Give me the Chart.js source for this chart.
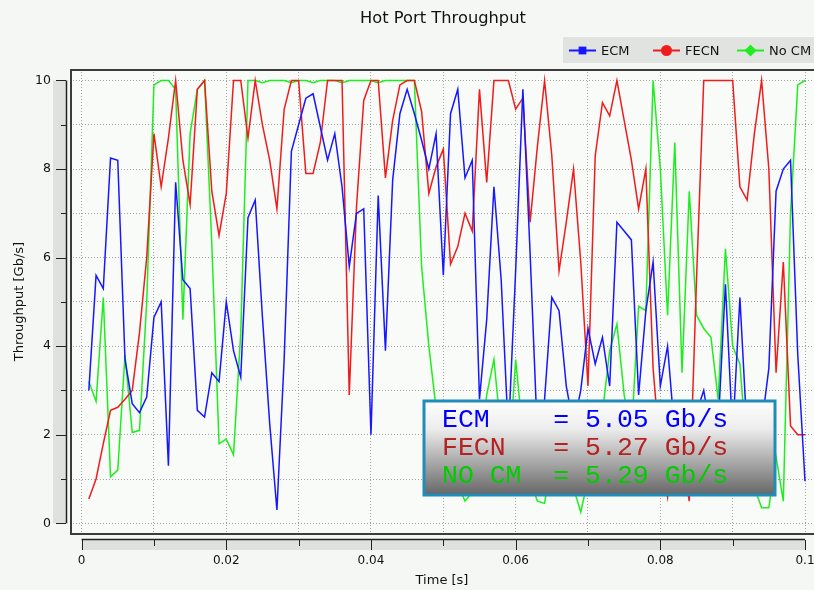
<!DOCTYPE html>
<html>
<head>
<meta charset="utf-8">
<title>Hot Port Throughput</title>
<script src="https://cdn.jsdelivr.net/npm/chart.js@4.4.1/dist/chart.umd.min.js"></script>
<style>
  html, body { margin: 0; padding: 0; background: #f4f7f4; }
  #wrap { width: 814px; height: 590px; }
</style>
</head>
<body>
<div id="wrap"><canvas id="throughputChart" width="814" height="590"></canvas></div>
<script>
// Sample grid: one throughput sample per millisecond, 1 ms .. 100 ms
const sampleStart = 0.001;
const sampleStep = 0.001;

// Throughput per sample [Gb/s]
const ecm = [
  3.0, 5.6, 5.3, 8.25, 8.2, 3.7, 2.7, 2.5, 2.85, 4.65,
  5.0, 1.3, 7.7, 5.5, 5.3, 2.55, 2.4, 3.4, 3.2, 5.0,
  3.9, 3.3, 6.9, 7.3, 4.65, 2.25, 0.3, 3.7, 8.4, 9.0,
  9.6, 9.7, 8.95, 8.2, 8.8, 7.6, 5.8, 7.0, 7.1, 2.0,
  7.4, 3.9, 7.75, 9.25, 9.8, 9.25, 8.65, 8.0, 8.8, 5.6,
  9.25, 9.8, 7.8, 8.2, 2.8, 4.6, 7.6, 5.5, 2.0, 5.7,
  9.8, 6.1, 2.0, 2.8, 5.1, 4.8, 3.1, 2.2, 3.0, 4.4,
  3.6, 4.2, 3.1, 6.8, 6.6, 6.4, 2.9, 4.8, 5.9, 3.1,
  4.0, 2.0, 1.5, 2.0, 2.5, 3.0, 2.0, 2.2, 5.4, 2.0,
  5.1, 2.0, 1.5, 2.2, 3.5, 7.5, 8.0, 8.2, 3.8, 0.95
];
const fecn = [
  0.55, 1.0, 1.8, 2.55, 2.62, 2.8, 3.0, 4.3, 6.0, 8.8,
  7.6, 8.7, 10, 8.2, 7.2, 9.8, 10, 7.5, 6.5, 7.45,
  10, 10, 8.7, 10, 9.0, 8.2, 7.1, 9.35, 10, 10,
  7.9, 7.9, 8.6, 10, 10, 10, 2.9, 7.15, 9.55, 10,
  10, 7.8, 9.1, 9.9, 10, 10, 9.3, 7.45, 8.05, 8.45,
  5.85, 6.25, 7.0, 6.6, 9.8, 7.7, 10, 10, 10, 9.35,
  9.6, 6.8, 8.5, 10, 8.3, 5.7, 6.8, 8.0, 5.9, 3.1,
  8.3, 9.5, 9.2, 10, 9.1, 8.2, 7.1, 8.0, 3.5, 1.5,
  0.6, 2.5, 1.5, 0.5, 5.5, 10, 10, 10, 10, 10,
  7.6, 7.3, 8.8, 10, 8.0, 3.4, 5.9, 2.2, 2.0, 2.0
];
const noCm = [
  3.2, 2.75, 5.1, 1.05, 1.2, 3.8, 2.05, 2.1, 5.0, 9.9,
  10, 10, 9.8, 4.6, 8.8, 9.8, 10, 6.3, 1.8, 1.9,
  1.55, 4.3, 10, 10, 9.95, 10, 10, 10, 9.95, 10,
  10, 9.95, 10, 10, 10, 9.95, 10, 10, 10, 10,
  9.95, 10, 10, 10, 10, 10, 5.8, 4.0, 2.6, 2.0,
  1.5, 0.9, 0.5, 0.7, 1.5, 2.9, 3.7, 2.0, 1.2, 3.7,
  2.0, 1.0, 0.5, 0.45, 1.5, 2.2, 1.5, 0.8, 0.25, 1.0,
  1.8, 2.5, 3.9, 4.5, 2.9, 2.0, 4.9, 4.8, 10, 8.0,
  4.7, 8.6, 3.4, 7.5, 4.7, 4.4, 4.2, 2.8, 6.2, 4.0,
  3.6, 1.5, 0.8, 0.35, 0.35, 1.5, 0.5, 7.0, 9.9, 10
];

// Axis ticks and labels
const xTicks = [0, 0.01, 0.02, 0.03, 0.04, 0.05, 0.06, 0.07, 0.08, 0.09, 0.1];
const xLabels = ['0', '', '0.02', '', '0.04', '', '0.06', '', '0.08', '', '0.1'];
const yTicks = [0, 1, 2, 3, 4, 5, 6, 7, 8, 9, 10];
const yLabels = ['0', '', '2', '', '4', '', '6', '', '8', '', '10'];

// Average throughput shown in the summary box
const seriesNames = ['ECM', 'FECN', 'No CM'];
const summaryNames = ['ECM', 'FECN', 'NO CM'];
const summaryValues = ['5.05', '5.27', '5.29'];

const lineColors = ['#1717ff', '#f01c1c', '#1eee1e'];
const summaryColors = ['#0000ff', '#b52222', '#00cc00'];
const markerStyles = ['rect', 'circle', 'rectRot'];

const times = ecm.map((_, i) => +(sampleStart + i * sampleStep).toFixed(3));
const toPoints = vals => vals.map((v, i) => ({ x: times[i], y: v }));

const uiFont = '"DejaVu Sans", "Liberation Sans", sans-serif';

// Qwt-like decorations: canvas frame, detached axis strips, titles, legend, summary box
const plotDecor = {
  id: 'plotDecor',
  beforeDraw(chart) {
    const { ctx, chartArea: a, scales: { x, y } } = chart;
    ctx.save();
    ctx.fillStyle = '#f4f7f4';
    ctx.fillRect(0, 0, chart.width, chart.height);
    ctx.fillStyle = '#f9fbf9';
    ctx.fillRect(a.left, a.top, a.right - a.left, a.bottom - a.top);

    // y axis strip
    const yTop = y.getPixelForValue(10), yBot = y.getPixelForValue(0);
    ctx.fillStyle = '#dfe1df';
    ctx.fillRect(53, yTop, 14, yBot - yTop);
    ctx.strokeStyle = '#222';
    ctx.lineWidth = 1.5;
    ctx.beginPath();
    ctx.moveTo(66.5, yTop); ctx.lineTo(66.5, yBot);
    ctx.stroke();
    ctx.lineWidth = 1;
    yTicks.forEach((v, i) => {
      const py = Math.round(y.getPixelForValue(v)) + 0.5;
      ctx.beginPath();
      ctx.moveTo(i % 2 ? 61 : 56, py); ctx.lineTo(66, py);
      ctx.stroke();
    });

    // x axis strip
    const xL = x.getPixelForValue(0), xR = x.getPixelForValue(0.1);
    ctx.fillStyle = '#dfe1df';
    ctx.fillRect(xL, 539, xR - xL, 11);
    ctx.lineWidth = 1.5;
    ctx.beginPath();
    ctx.moveTo(xL, 539.5); ctx.lineTo(xR, 539.5);
    ctx.stroke();
    ctx.lineWidth = 1;
    xTicks.forEach((v, i) => {
      const px = Math.round(x.getPixelForValue(v)) + 0.5;
      ctx.beginPath();
      ctx.moveTo(px, 540); ctx.lineTo(px, i % 2 ? 546 : 550);
      ctx.stroke();
    });

    // titles
    ctx.fillStyle = '#111';
    ctx.textAlign = 'center';
    ctx.textBaseline = 'middle';
    ctx.font = '16.3px ' + uiFont;
    ctx.fillText('Hot Port Throughput', 443, 19);
    ctx.font = '13px ' + uiFont;
    ctx.fillText('Time [s]', 442, 581);
    ctx.save();
    ctx.translate(20, (a.top + a.bottom) / 2);
    ctx.rotate(-Math.PI / 2);
    ctx.fillText('Throughput [Gb/s]', 0, 0);
    ctx.restore();

    // legend
    ctx.fillStyle = '#e1e3e1';
    ctx.fillRect(563, 37, 251, 26);
    const legendX = [569, 653, 737];
    ctx.textAlign = 'left';
    ctx.font = '13px ' + uiFont;
    seriesNames.forEach((name, i) => {
      const lx = legendX[i], ly = 50.5;
      ctx.strokeStyle = lineColors[i];
      ctx.lineWidth = 2;
      ctx.beginPath();
      ctx.moveTo(lx, ly); ctx.lineTo(lx + 27, ly);
      ctx.stroke();
      ctx.fillStyle = lineColors[i];
      Chart.helpers.drawPoint(ctx, {
        pointStyle: markerStyles[i],
        radius: i === 2 ? 6 : 5.5,
        rotation: 0,
        borderWidth: 0
      }, lx + 13.5, ly);
      ctx.fillStyle = '#111';
      ctx.fillText(name, lx + 32, ly + 1);
    });
    ctx.restore();
  },
  afterDraw(chart) {
    const { ctx, chartArea: a } = chart;
    ctx.save();
    // canvas frame
    ctx.strokeStyle = '#3c3c3c';
    ctx.lineWidth = 2;
    ctx.strokeRect(a.left + 1, a.top + 1, a.right - a.left, a.bottom - a.top - 1);

    // summary box
    const bx = 424, by = 401, bw = 351, bh = 94;
    const grad = ctx.createLinearGradient(0, by, 0, by + bh);
    grad.addColorStop(0, '#ffffff');
    grad.addColorStop(0.3, '#ececec');
    grad.addColorStop(1, '#666666');
    ctx.fillStyle = grad;
    ctx.fillRect(bx, by, bw, bh);
    ctx.strokeStyle = '#1f8cba';
    ctx.lineWidth = 3;
    ctx.strokeRect(bx, by, bw, bh);

    ctx.font = '26.5px "Courier New", "Liberation Mono", monospace';
    ctx.textAlign = 'left';
    ctx.textBaseline = 'alphabetic';
    summaryNames.forEach((name, i) => {
      ctx.fillStyle = summaryColors[i];
      const text = name.padEnd(7, ' ') + '= ' + summaryValues[i] + ' Gb/s';
      ctx.fillText(text, 442, 427 + i * 28);
    });
    ctx.restore();
  }
};

const ctx = document.getElementById('throughputChart').getContext('2d');
const throughputChart = new Chart(ctx, {
  type: 'line',
  data: {
    datasets: [ecm, fecn, noCm].map((vals, i) => ({
      label: seriesNames[i],
      data: toPoints(vals),
      borderColor: lineColors[i],
      backgroundColor: lineColors[i],
      borderWidth: 1.5,
      pointRadius: 0,
      tension: 0,
      fill: false
    }))
  },
  options: {
    responsive: false,
    animation: false,
    devicePixelRatio: 1,
    layout: { padding: { top: 69, left: 0, right: 0, bottom: 0 } },
    plugins: {
      legend: { display: false },
      title: { display: false },
      tooltip: { enabled: false }
    },
    scales: {
      x: {
        type: 'linear',
        min: -0.0016035,
        max: 0.101243,
        afterBuildTicks: s => { s.ticks = xTicks.map(v => ({ value: v })); },
        afterFit: s => { s.height = 56; s.paddingLeft = 0; s.paddingRight = 0; },
        grid: { color: '#a2a2a2', lineWidth: 1, drawTicks: false },
        border: { display: false, dash: [1, 2] },
        ticks: {
          autoSkip: false,
          maxRotation: 0,
          padding: 20,
          color: '#111',
          font: { family: uiFont, size: 12 },
          callback: (v, i) => xLabels[i]
        }
      },
      y: {
        type: 'linear',
        min: -0.2416,
        max: 10.2596,
        afterBuildTicks: s => { s.ticks = yTicks.map(v => ({ value: v })); },
        afterFit: s => { s.width = 70; s.paddingTop = 0; s.paddingBottom = 0; },
        grid: { color: '#a2a2a2', lineWidth: 1, drawTicks: false },
        border: { display: false, dash: [1, 2] },
        ticks: {
          autoSkip: false,
          padding: 19,
          color: '#111',
          font: { family: uiFont, size: 12.5 },
          callback: (v, i) => yLabels[i]
        }
      }
    }
  },
  plugins: [plotDecor]
});
</script>
</body>
</html>
